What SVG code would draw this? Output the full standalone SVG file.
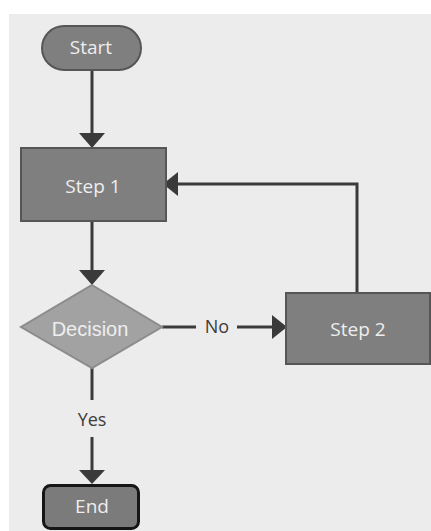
<svg xmlns="http://www.w3.org/2000/svg" width="431" height="531" viewBox="0 0 431 531">
  <style>
    .node { fill: #7f7f7f; stroke: #565656; stroke-width: 2; }
    .label { font-family: "Open Sans", Lato, sans-serif; font-size: 19px; fill: #eeeeee; text-anchor: middle; }
    .edge-label { font-family: "Open Sans", Lato, sans-serif; font-size: 18px; fill: #3c3c3c; text-anchor: middle; }
    .wire { fill: none; stroke: #3a3a3a; stroke-width: 3; }
    .head { fill: #3a3a3a; }
  </style>

  <!-- canvas -->
  <rect x="0" y="0" width="431" height="531" fill="#ffffff"/>
  <rect x="9" y="14" width="422" height="517" fill="#ececec"/>

  <!-- connectors -->
  <g id="connectors">
    <!-- Start -> Step 1 -->
    <line class="wire" x1="92" y1="70" x2="92" y2="134"/>
    <polygon class="head" points="79,133 105,133 92,148"/>
    <!-- Step 1 -> Decision -->
    <line class="wire" x1="92" y1="221" x2="92" y2="271"/>
    <polygon class="head" points="79,270 105,270 92,285"/>
    <!-- Decision -> Step 2 (No) -->
    <line class="wire" x1="162" y1="327" x2="196" y2="327"/>
    <line class="wire" x1="237" y1="327" x2="273" y2="327"/>
    <polygon class="head" points="272,315 272,339 287,327"/>
    <text class="edge-label" x="217" y="333">No</text>
    <!-- Step 2 -> Step 1 (loop back) -->
    <polyline class="wire" points="357,293 357,184 177,184"/>
    <polygon class="head" points="178,172 178,196 163,184"/>
    <!-- Decision -> End (Yes) -->
    <line class="wire" x1="92" y1="368" x2="92" y2="400"/>
    <line class="wire" x1="92" y1="437" x2="92" y2="471"/>
    <polygon class="head" points="79,470 105,470 92,484"/>
    <text class="edge-label" x="92" y="426">Yes</text>
  </g>

  <g id="start">
    <rect class="node" x="42" y="26" width="99" height="44" rx="22" fill="#7a7a7a"/>
    <text class="label" x="91" y="54">Start</text>
  </g>

  <g id="step1">
    <rect class="node" x="21" y="148" width="145" height="73"/>
    <text class="label" x="93" y="193">Step 1</text>
  </g>

  <g id="decision">
    <polygon points="92,285 162,327 92,368 21,327" fill="#a2a2a2" stroke="#8c8c8c" stroke-width="2"/>
    <text class="label" x="90" y="336" style="font-family:'Liberation Sans', Arial, sans-serif; font-size:20px">Decision</text>
  </g>

  <g id="step2">
    <rect class="node" x="286" y="293" width="144" height="71"/>
    <text class="label" x="358" y="336">Step 2</text>
  </g>

  <g id="end">
    <rect x="43.5" y="485.5" width="95" height="43" rx="7" fill="#7b7b7b" stroke="#161616" stroke-width="3"/>
    <text class="label" x="92" y="513">End</text>
  </g>
</svg>
